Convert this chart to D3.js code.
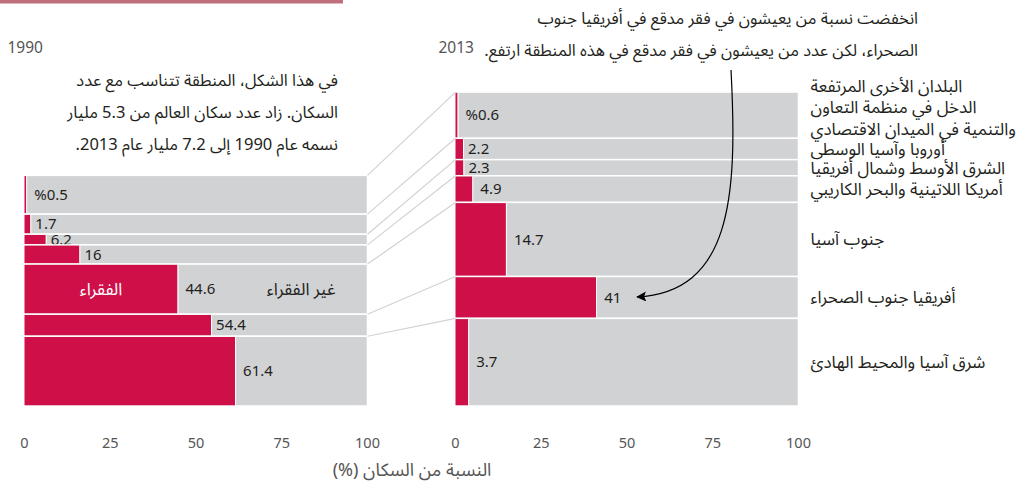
<!DOCTYPE html>
<html>
<head>
<meta charset="utf-8">
<script src="https://cdn.jsdelivr.net/npm/d3@7"></script>
<style>
  body { margin: 0; background: #fff; }
  text { font-family: "Noto Sans Arabic", "Noto Sans", "DejaVu Sans", sans-serif; }
</style>
</head>
<body>
<script>
// regions, top to bottom
const regions = ["oecd", "eca", "mena", "lac", "sa", "ssa", "eap"];
const regionLabels = [
  ["البلدان الأخرى المرتفعة", "الدخل في منظمة التعاون", "والتنمية في الميدان الاقتصادي"],
  ["أوروبا وآسيا الوسطى"],
  ["الشرق الأوسط وشمال أفريقيا"],
  ["أمريكا اللاتينية والبحر الكاريبي"],
  ["جنوب آسيا"],
  ["أفريقيا جنوب الصحراء"],
  ["شرق آسيا والمحيط الهادئ"]
];
// population, billions
const pop1990 = [0.89, 0.46, 0.245, 0.44, 1.15, 0.505, 1.60];
const pop2013 = [1.06, 0.49, 0.37, 0.61, 1.70, 0.96, 2.01];
// share in extreme poverty, %
const poor1990 = [0.5, 1.7, 6.2, 16, 44.6, 54.4, 61.4];
const poor2013 = [0.6, 2.2, 2.3, 4.9, 14.7, 41, 3.7];
const valueLabels1990 = ["%0.5", "1.7", "6.2", "16", "44.6", "54.4", "61.4"];
const valueLabels2013 = ["%0.6", "2.2", "2.3", "4.9", "14.7", "41", "3.7"];
const ticks = [0, 25, 50, 75, 100];

const w = 1027, h = 489;
const red = "#cf0f47", grey = "#d1d2d4", ink = "#231f20";
const bottom = 406, pxPerBn = 43.6;

const svg = d3.select("body").append("svg").attr("width", w).attr("height", h);

// cut-off title strip
svg.append("rect").attr("x", 0).attr("y", 0).attr("width", 343).attr("height", 3.5).attr("fill", "#c0707a");

const panels = [
  { year: "1990", pop: pop1990, poor: poor1990, labels: valueLabels1990,
    x: d3.scaleLinear().domain([0, 100]).range([24.5, 367.5]) },
  { year: "2013", pop: pop2013, poor: poor2013, labels: valueLabels2013,
    x: d3.scaleLinear().domain([0, 100]).range([455.5, 798.5]) }
];

panels.forEach(p => {
  const total = d3.sum(p.pop);
  const y = d3.scaleLinear().domain([0, total]).range([bottom - total * pxPerBn, bottom]);
  const cum = d3.cumsum(p.pop);
  p.rows = regions.map((r, i) => ({
    i: i, y0: y(cum[i] - p.pop[i]), y1: y(cum[i]), poor: p.poor[i], label: p.labels[i]
  }));

  const g = svg.append("g");
  const rows = g.selectAll("g.row").data(p.rows).enter().append("g").attr("class", "row");

  rows.append("rect")
    .attr("x", p.x(0)).attr("width", p.x(100) - p.x(0))
    .attr("y", d => d.y0).attr("height", d => d.y1 - d.y0)
    .attr("fill", grey).attr("stroke", "#fff").attr("stroke-width", 1.5);

  rows.append("rect")
    .attr("x", p.x(0)).attr("width", d => p.x(d.poor) - p.x(0))
    .attr("y", d => d.y0 + 0.75).attr("height", d => d.y1 - d.y0 - 1.5)
    .attr("fill", red);

  rows.append("line")
    .attr("x1", d => p.x(d.poor) + 0.5).attr("x2", d => p.x(d.poor) + 0.5)
    .attr("y1", d => d.y0 + 0.75).attr("y2", d => d.y1 - 0.75)
    .attr("stroke", "#fff").attr("stroke-width", 1);

  rows.append("text")
    .attr("x", d => p.x(d.poor) + (d.y1 - d.y0 < 25 ? 5 : 8))
    .attr("y", d => (d.y0 + d.y1) / 2)
    .attr("dy", "0.35em")
    .attr("font-size", 15).attr("fill", ink)
    .text(d => d.label);

  g.selectAll("text.tick").data(ticks).enter().append("text")
    .attr("class", "tick")
    .attr("x", d => p.x(d)).attr("y", 448)
    .attr("text-anchor", "middle")
    .attr("font-size", 14.5).attr("fill", "#555")
    .text(d => d);

  svg.append("text")
    .attr("x", p.x(0) - 17).attr("y", 53)
    .attr("font-size", 15.5).attr("fill", "#555")
    .text(p.year);
});

// connectors between panels
const left = panels[0], right = panels[1];
svg.append("g").selectAll("line").data(regions).enter().append("line")
  .attr("x1", left.x(100)).attr("y1", (d, i) => left.rows[i].y0)
  .attr("x2", right.x(0)).attr("y2", (d, i) => right.rows[i].y0)
  .attr("stroke", grey).attr("stroke-width", 1.2);

// poor / non-poor labels on South Asia 1990
const sa = left.rows[4];
svg.append("text")
  .attr("x", (left.x(0) + left.x(sa.poor)) / 2).attr("y", (sa.y0 + sa.y1) / 2).attr("dy", "0.35em")
  .attr("text-anchor", "middle").attr("font-size", 17).attr("fill", "#fff")
  .text("الفقراء");
svg.append("text")
  .attr("x", left.x(100) - 32).attr("y", (sa.y0 + sa.y1) / 2).attr("dy", "0.35em")
  .attr("direction", "rtl").attr("text-anchor", "start").attr("font-size", 17).attr("fill", ink)
  .text("غير الفقراء");

// region labels
svg.append("g").selectAll("g").data(regionLabels).enter().append("g")
  .each(function(lines, i) {
    const r = right.rows[i];
    const lh = 21.5;
    const c = (r.y0 + r.y1) / 2 - (lines.length > 1 ? 8 : 0);
    d3.select(this).selectAll("text").data(lines).enter().append("text")
      .attr("x", right.x(100) + 12)
      .attr("y", (d, j) => c + (j - (lines.length - 1) / 2) * lh)
      .attr("dy", "0.35em")
      .attr("font-size", 17).attr("fill", ink)
      .text(d => d);
  });

// notes
const noteLeft = ["في هذا الشكل، المنطقة تتناسب مع عدد", "السكان. زاد عدد سكان العالم من 5.3 مليار", "نسمه عام 1990 إلى 7.2 مليار عام 2013."];
const noteRight = ["انخفضت نسبة من يعيشون في فقر مدقع في أفريقيا جنوب", "الصحراء، لكن عدد من يعيشون في فقر مدقع في هذه المنطقة ارتفع."];

svg.append("g").selectAll("text").data(noteLeft).enter().append("text")
  .attr("x", 338).attr("y", (d, i) => 80 + i * 32).attr("dy", "0.35em")
  .attr("direction", "rtl").attr("text-anchor", "start")
  .attr("font-size", 16.5).attr("fill", ink).text(d => d);

svg.append("g").selectAll("text").data(noteRight).enter().append("text")
  .attr("x", 918).attr("y", (d, i) => 18 + i * 32).attr("dy", "0.35em")
  .attr("direction", "rtl").attr("text-anchor", "start")
  .attr("font-size", 16.5).attr("fill", ink).text(d => d);

// arrow to Sub-Saharan Africa 2013
svg.append("defs").append("marker")
  .attr("id", "head").attr("viewBox", "0 0 10 10").attr("refX", 9).attr("refY", 5)
  .attr("markerWidth", 16).attr("markerHeight", 10).attr("markerUnits", "userSpaceOnUse")
  .attr("orient", "auto")
  .append("path").attr("d", "M0,0 L10,5 L0,10 L2,5 Z").attr("fill", "#000");

const ssa = right.rows[5];
const tip = [right.x(41) + 41, (ssa.y0 + ssa.y1) / 2 - 0.5];
svg.append("path")
  .attr("d", `M731,70 C738,200 730,292 ${tip[0]},${tip[1]}`)
  .attr("fill", "none").attr("stroke", "#000").attr("stroke-width", 1.2)
  .attr("marker-end", "url(#head)");

// axis title
svg.append("text")
  .attr("x", 412).attr("y", 476)
  .attr("direction", "rtl").attr("text-anchor", "middle")
  .attr("font-size", 18).attr("fill", "#555")
  .text("النسبة من السكان (%)");
</script>
</body>
</html>
